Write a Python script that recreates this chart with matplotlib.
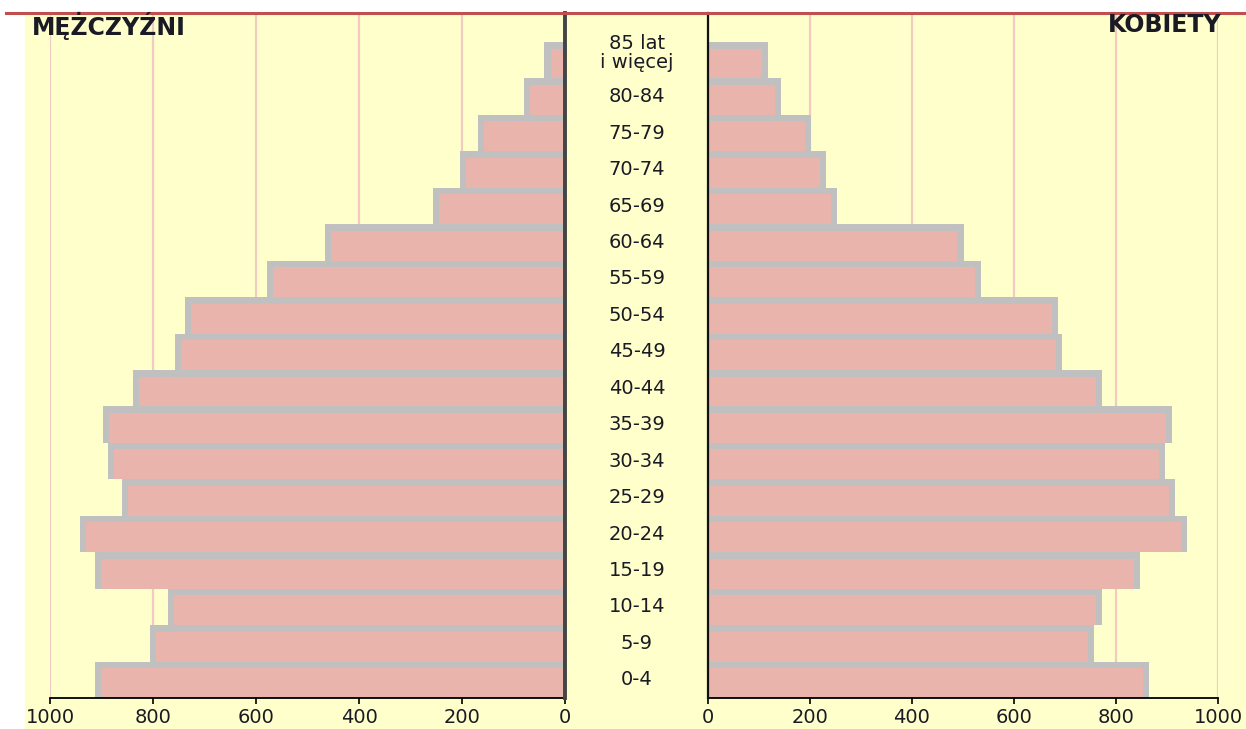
import matplotlib
matplotlib.use('Agg')
import matplotlib.pyplot as plt
from matplotlib.patches import Rectangle
from matplotlib.lines import Line2D
from matplotlib.transforms import blended_transform_factory

# grupy wieku (od najmłodszej)
age_groups = ['0-4', '5-9', '10-14', '15-19', '20-24', '25-29', '30-34', '35-39',
              '40-44', '45-49', '50-54', '55-59', '60-64', '65-69', '70-74',
              '75-79', '80-84', '85 lat\ni więcej']
men = [913, 806, 771, 913, 942, 860, 887, 897, 839, 757, 738, 579, 466,
       256, 204, 169, 80, 40]
women = [865, 757, 772, 847, 939, 916, 896, 910, 772, 694, 687, 535, 501,
         253, 231, 202, 143, 117]
ticks = [0, 200, 400, 600, 800, 1000]

W, H = 1246, 729
BG = '#FFFFCC'
PINK = '#E8B4AC'
GRAY = '#C0C0C0'
GRID = '#F2CAC2'
TXT = '#1A1A24'

fig = plt.figure(figsize=(W / 100, H / 100), dpi=100, facecolor='white')
fig.patches.append(Rectangle((25 / W, 0), 1 - 25 / W, 1 - 14 / H,
                             transform=fig.transFigure, color=BG, zorder=-10))
fig.lines.append(Line2D([6 / W, 1], [1 - 13 / H, 1 - 13 / H],
                        transform=fig.transFigure, color='#C0504D', lw=2.2))

bottom = (H - 698) / H
height = (698 - 13) / H
ax_l = fig.add_axes([50 / W, bottom, 515 / W, height])
ax_r = fig.add_axes([708 / W, bottom, 510 / W, height])

n = len(age_groups)
slot = (698 - 42) / n
ytop = n - 0.5 + (42 - 13) / slot
ypos = list(range(n))

for ax, vals in ((ax_l, men), (ax_r, women)):
    ax.set_facecolor('none')
    ax.barh(ypos, vals, height=1.0, color=GRAY, zorder=2)
    ax.barh([y - 0.09 for y in ypos], [v - 12 for v in vals], height=0.82,
            color=PINK, zorder=3)
    ax.set_ylim(-0.5, ytop)
    ax.set_yticks([])
    ax.set_xticks(ticks)
    ax.set_xticklabels([str(t) for t in ticks])
    ax.xaxis.grid(True, color=GRID, lw=1.6, zorder=0)
    ax.set_axisbelow(True)
    ax.tick_params(axis='x', direction='out', length=4, width=1.2,
                   colors='black', labelcolor=TXT, labelsize=14, pad=3)
    for s in ('top', 'left', 'right'):
        ax.spines[s].set_visible(False)
    ax.spines['bottom'].set_linewidth(1.3)
    ax.spines['bottom'].set_zorder(5)

ax_l.set_xlim(1000, 0)
ax_r.set_xlim(0, 1000)

ax_l.spines['right'].set_visible(True)
ax_l.spines['right'].set_color('#444444')
ax_l.spines['right'].set_linewidth(2.8)
ax_l.spines['right'].set_zorder(6)
ax_r.spines['left'].set_visible(True)
ax_r.spines['left'].set_color('#111111')
ax_r.spines['left'].set_linewidth(1.6)
ax_r.spines['left'].set_zorder(6)

tr = blended_transform_factory(fig.transFigure, ax_l.transData)
for y, lab in zip(ypos, age_groups):
    # etykieta dwuwierszowa stoi nieco wyżej
    dy = 0.2 if '\n' in lab else 0
    ax_l.text(637 / W, y + dy, lab, transform=tr, ha='center', va='center',
              fontsize=14, color=TXT, linespacing=0.95, clip_on=False)

fig.text(32 / W, 1 - 26 / H, 'MĘŻCZYŹNI', fontsize=17, fontweight='bold',
         color=TXT, ha='left', va='center')
fig.text(1222 / W, 1 - 25 / H, 'KOBIETY', fontsize=17, fontweight='bold',
         color=TXT, ha='right', va='center')

fig.savefig('out.png', dpi=100, facecolor='white')
